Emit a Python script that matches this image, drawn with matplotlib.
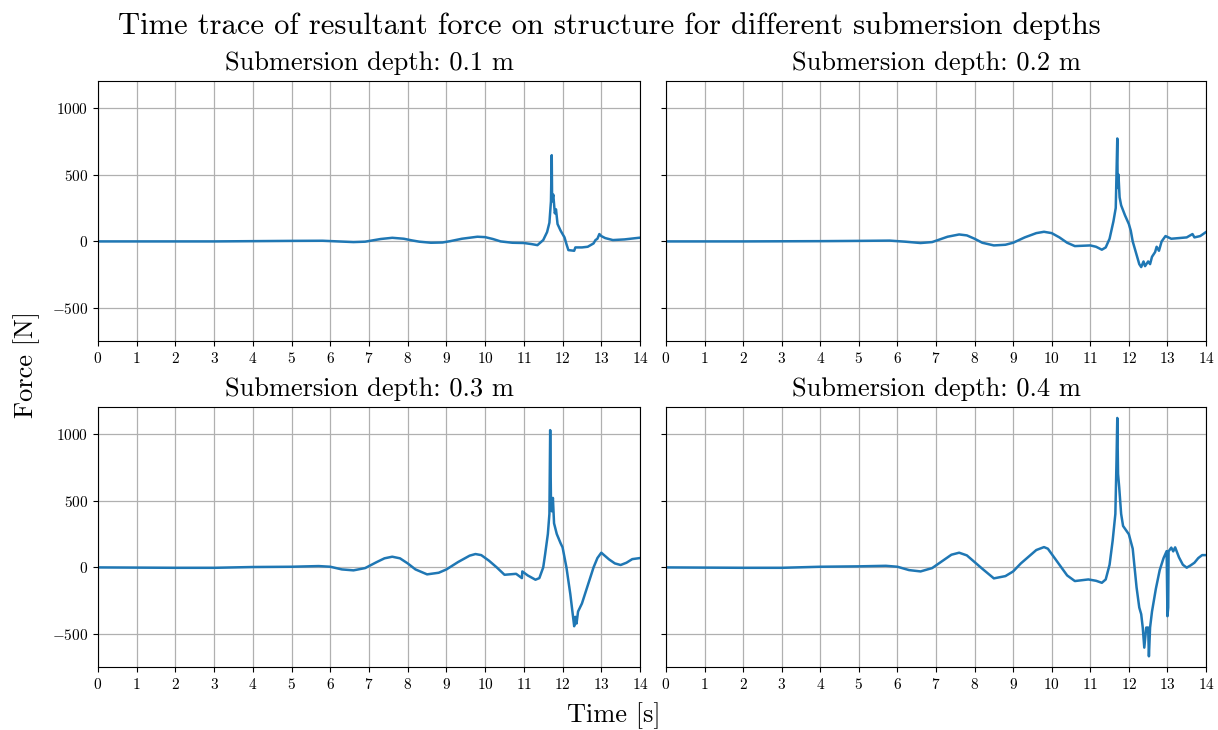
import matplotlib
matplotlib.use("Agg")
import matplotlib.pyplot as plt

plt.rcParams['font.family'] = 'serif'
plt.rcParams['font.serif'] = ['cmr10']
plt.rcParams['mathtext.fontset'] = 'cm'
plt.rcParams['axes.formatter.use_mathtext'] = True
plt.rcParams['axes.unicode_minus'] = True

depths = ["0.1", "0.2", "0.3", "0.4"]

t1 = [0, 1, 2, 3, 4, 5, 5.8, 6.2, 6.6, 6.9, 7.1, 7.3, 7.6, 7.9, 8.1, 8.3, 8.6, 8.9, 9.1, 9.4, 9.8, 10.0, 10.2, 10.4, 10.7, 11.0, 11.2, 11.35, 11.5, 11.6, 11.66, 11.7, 11.72, 11.73, 11.76, 11.8, 11.83, 11.87, 11.95, 12.05, 12.1, 12.15, 12.3, 12.33, 12.5, 12.65, 12.8, 12.85, 12.9, 12.95, 13.0, 13.1, 13.3, 13.6, 14.0]
f1 = [0, 0, 0, 0, 2, 4, 5, 0, -5, -2, 8, 18, 27, 20, 8, -2, -10, -8, 2, 20, 35, 32, 18, 0, -10, -12, -20, -28, 10, 70, 140, 300, 645, 300, 350, 210, 240, 130, 80, 30, -20, -65, -70, -45, -45, -40, -15, 10, 20, 55, 40, 25, 10, 15, 28]

t2 = [0, 2, 4, 5, 5.8, 6.2, 6.6, 6.9, 7.1, 7.3, 7.6, 7.8, 8.0, 8.2, 8.5, 8.8, 9.0, 9.3, 9.6, 9.8, 10.0, 10.2, 10.4, 10.6, 11.0, 11.15, 11.3, 11.4, 11.5, 11.6, 11.66, 11.7, 11.71, 11.73, 11.76, 11.8, 11.9, 12.0, 12.05, 12.1, 12.2, 12.27, 12.32, 12.38, 12.42, 12.5, 12.55, 12.6, 12.68, 12.72, 12.78, 12.85, 12.95, 13.1, 13.3, 13.5, 13.65, 13.7, 13.85, 14.0]
f2 = [0, 0, 2, 4, 6, -2, -12, -5, 15, 35, 52, 45, 20, -10, -30, -25, -10, 30, 62, 72, 62, 30, -10, -35, -30, -40, -62, -45, 20, 150, 250, 770, 400, 500, 330, 270, 195, 130, 80, 0, -100, -170, -192, -150, -185, -150, -170, -115, -80, -40, -70, 0, 40, 20, 25, 30, 55, 30, 40, 70]

t3 = [0, 2, 3, 4, 5, 5.7, 6.0, 6.3, 6.6, 6.9, 7.2, 7.4, 7.6, 7.8, 8.0, 8.2, 8.5, 8.8, 9.0, 9.3, 9.6, 9.75, 9.9, 10.1, 10.3, 10.5, 10.8, 10.95, 10.96, 11.1, 11.3, 11.4, 11.5, 11.55, 11.62, 11.66, 11.68, 11.7, 11.72, 11.75, 11.78, 11.85, 11.95, 12.0, 12.1, 12.2, 12.3, 12.33, 12.36, 12.4, 12.5, 12.6, 12.7, 12.8, 12.9, 13.0, 13.1, 13.2, 13.35, 13.5, 13.65, 13.8, 14.0]
f3 = [0, -3, -3, 3, 5, 10, 5, -15, -22, -5, 40, 68, 80, 68, 30, -15, -52, -40, -15, 40, 88, 100, 92, 50, 0, -55, -48, -80, -30, -60, -92, -80, 0, 100, 250, 400, 1027, 500, 420, 520, 330, 250, 180, 150, 0, -200, -440, -370, -420, -330, -270, -180, -90, 0, 70, 110, 85, 60, 30, 18, 35, 62, 70]

t4 = [0, 2, 3, 4, 5, 5.7, 6.0, 6.3, 6.6, 6.9, 7.2, 7.4, 7.6, 7.8, 8.0, 8.2, 8.5, 8.8, 9.0, 9.2, 9.6, 9.8, 9.9, 10.1, 10.4, 10.6, 10.95, 11.15, 11.3, 11.4, 11.5, 11.58, 11.65, 11.68, 11.7, 11.72, 11.75, 11.8, 11.85, 12.0, 12.1, 12.2, 12.27, 12.32, 12.36, 12.4, 12.45, 12.5, 12.52, 12.55, 12.6, 12.7, 12.8, 12.9, 12.98, 13.0, 13.02, 13.03, 13.1, 13.15, 13.2, 13.3, 13.4, 13.5, 13.6, 13.7, 13.8, 13.9, 14.0]
f4 = [0, -3, -3, 5, 8, 12, 5, -20, -30, -5, 55, 95, 110, 90, 40, -10, -82, -65, -30, 30, 130, 152, 140, 60, -60, -102, -90, -100, -115, -90, 20, 200, 400, 800, 1118, 700, 598, 400, 310, 248, 140, -150, -300, -350, -450, -600, -450, -450, -665, -450, -330, -160, -20, 70, 122, -365, -300, 120, 148, 120, 150, 75, 20, -2, 15, 35, 70, 92, 92]

times = [t1, t2, t3, t4]
forces = [f1, f2, f3, f4]
xticks = list(range(0, 15))

fig = plt.figure(figsize=(12.18, 7.30), dpi=100)
L1, R1, L2, R2 = 98/1218, 640/1218, 666/1218, 1206/1218
T1, B1, T2, B2 = 1-81/730, 1-341/730, 1-407/730, 1-667/730
rects = [(L1, B1, R1-L1, T1-B1), (L2, B1, R2-L2, T1-B1),
         (L1, B2, R1-L1, T2-B2), (L2, B2, R2-L2, T2-B2)]
axes = []
for i, r in enumerate(rects):
    if i == 0:
        ax = fig.add_axes(r)
    else:
        ax = fig.add_axes(r, sharey=axes[0])
    axes.append(ax)

for i, ax in enumerate(axes):
    ax.plot(times[i], forces[i], color='#1f77b4', lw=1.8)
    ax.set_xlim(0, 14)
    ax.set_xticks(xticks)
    ax.set_yticks([-500, 0, 500, 1000])
    ax.grid(True, color='#b0b0b0', lw=0.9)
    ax.set_axisbelow(True)
    ax.tick_params(labelsize=11)
    ax.set_title(f"Submersion depth: {depths[i]} m", fontsize=19, pad=8)
    if i in (1, 3):
        ax.tick_params(labelleft=False)

axes[0].set_ylim(-745, 1200)

fig.suptitle("Time trace of resultant force on structure for different submersion depths",
             fontsize=22, y=0.983)
fig.text(0.504, 0.02, "Time [s]", ha='center', va='center', fontsize=19)
fig.text(0.022, 0.5, "Force [N]", ha='center', va='center', rotation=90, fontsize=19)

fig.savefig("out.png", dpi=100)
